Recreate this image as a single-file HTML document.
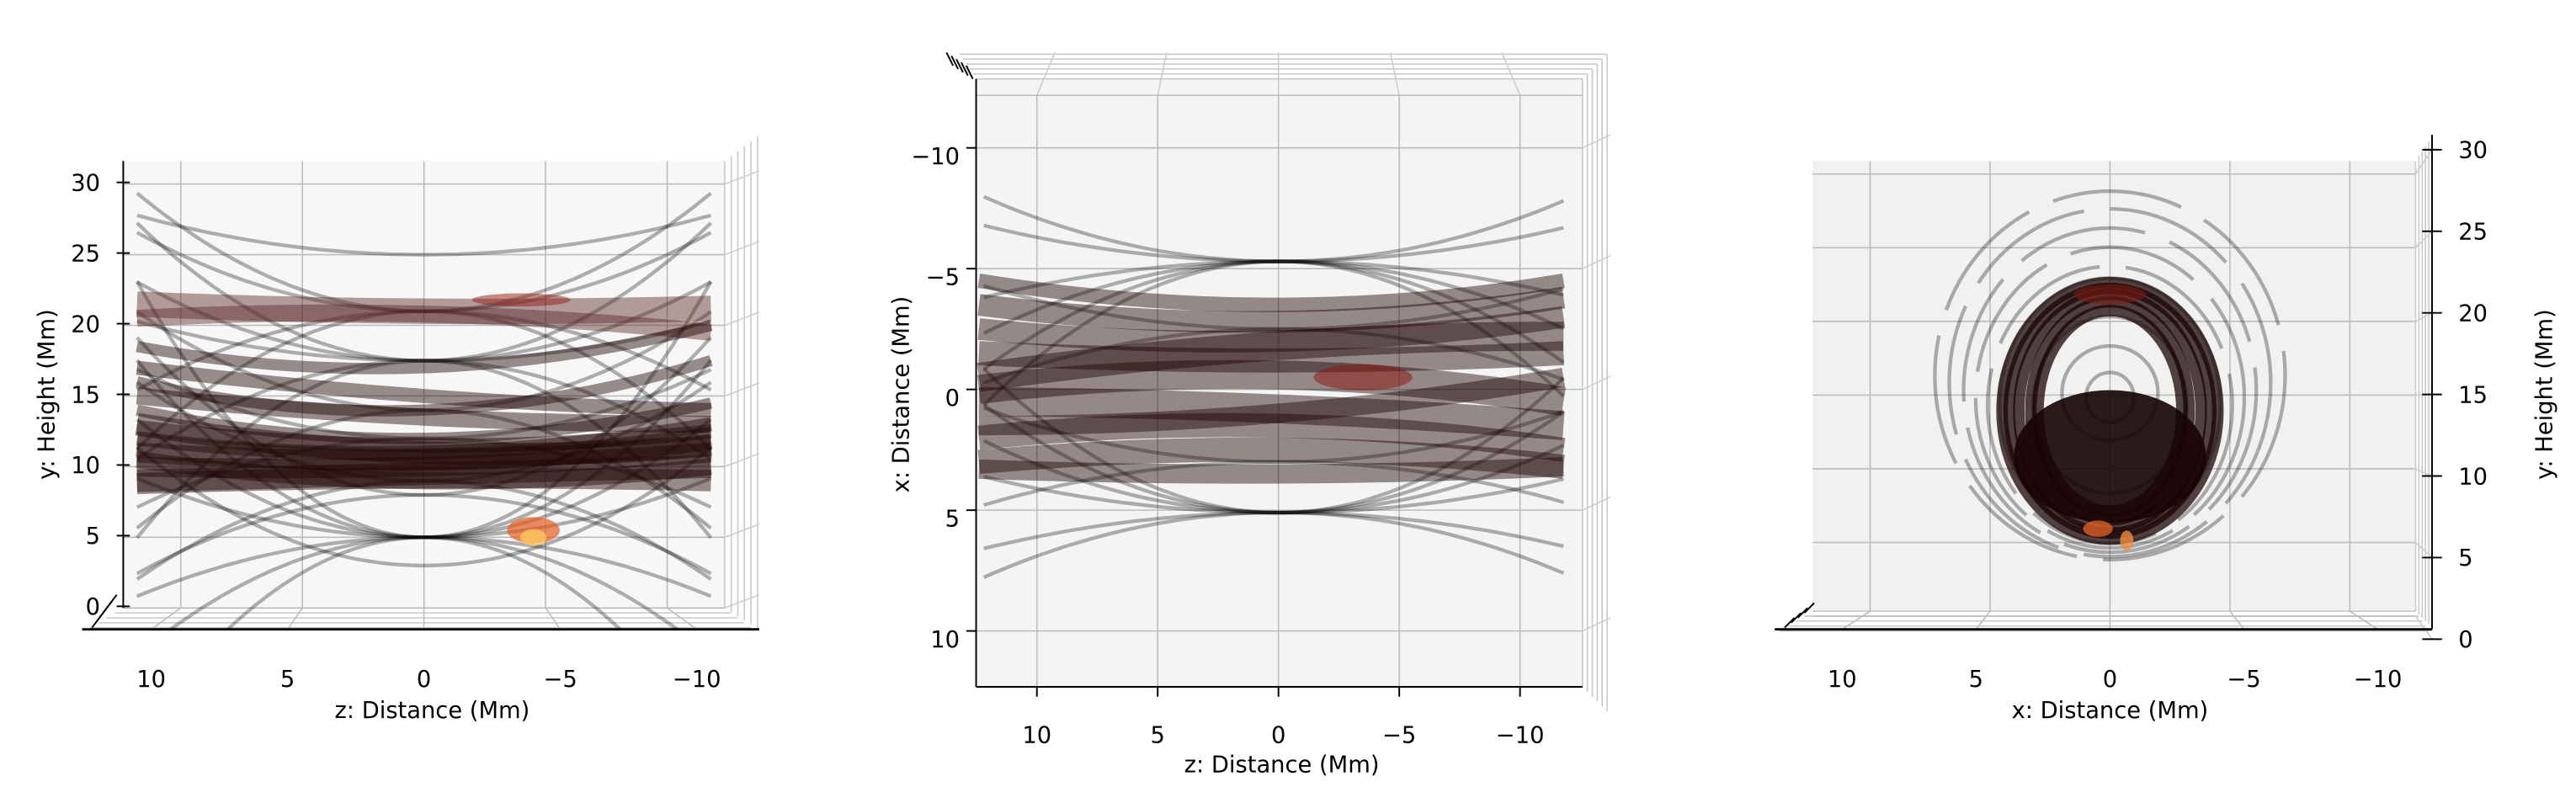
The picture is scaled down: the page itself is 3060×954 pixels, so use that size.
<!DOCTYPE html>
<html><head><meta charset="utf-8"><style>
html,body{margin:0;padding:0;background:#fff;overflow:hidden;width:3060px;height:954px;}
svg{display:block;font-family:"DejaVu Sans","Liberation Sans",sans-serif;}
</style></head><body>
<svg id="fig" width="3060" height="954" viewBox="0 0 1567.6 488.7" preserveAspectRatio="none" xmlns="http://www.w3.org/2000/svg"></svg>
<script>
// ---------- data ----------
const p1TickY = [0,5,10,15,20,25,30];
const p1TickZ = [10,5,0,-5,-10];
const p2TickX = [-10,-5,0,5,10];
// panel 1 field lines: y = c + k*z^2
const p1LineC = [5,5,5,5,5,5,5,17.5,17.5,17.5,17.5,17.5,21,21,21,21,9,9,12,12,14,14,8,8,25,3];
const p1LineK = [0.03,0.06,0.09,-0.03,-0.06,-0.1,0.13,0.04,0.07,-0.05,-0.09,0.02,0.04,-0.04,0.06,-0.07,0.05,-0.05,0.035,-0.035,0.05,-0.06,0.08,-0.04,0.02,0.06];
// panel 1 dark flux bands: left y, middle y, right y, width (Mm)
const p1BandY0 = [21.5,20.5,17,15,13,11.5,10,9,8.8,14,12,16,18.5,10.5,12.8,11];
const p1BandYm = [21,20.8,15,13.5,11,10.5,10,9.5,9.2,12,11,14,17,9,11.5,10.5];
const p1BandY1 = [21.2,19.5,14,13,11.5,12,11,10,9,14.5,13,17.5,20,10,12.5,11.5];
const p1BandW  = [1.8,1.2,1.0,1.2,1.6,1.6,1.4,1.6,1.5,0.8,1.0,0.8,0.8,1.2,1.0,1.4];
// panel 2 field lines: x = c + k*z^2
const p2LineC = [-5.3,-5.3,-5.3,-5.3,-5.3,-5.3,5.1,5.1,5.1,5.1,5.1,5.1,3,3,-2.5,-2.5];
const p2LineK = [-0.018,-0.01,0.01,0.02,0.03,0.04,0.018,0.01,-0.01,-0.02,-0.03,-0.04,-0.015,0.012,0.015,-0.012];
const p2BandX0 = [-3.5,-2.5,-1.5,0,0.5,2,3,3.3,-4.5,1.5,-0.5];
const p2BandXm = [-2.8,-2,-1.2,-0.6,0.8,1.5,2.5,3.5,-3.5,1,-1.8];
const p2BandX1 = [-3.8,-3,-1.5,0.5,1.5,2.5,3.2,3.2,-4.5,-0.5,-2.2];
const p2BandW  = [0.9,0.9,1.0,1.2,1.2,1.0,1.0,0.8,0.6,0.8,1.2];
// panel 3 field-line ellipses: center height, semi-x, semi-y
const p3EllC  = [14.5,14.8,14,14,14,14.5,15,15.5,16];
const p3EllA  = [1.0,2.0,3.2,4.6,5.1,5.6,6.1,6.7,7.3];
const p3EllB  = [1.7,3.2,6.0,8.6,9.4,10.2,11.0,11.8,12.5];
const p3RingA = [3.3,3.8,4.2,4.5,3.0];
const p3RingB = [7.4,7.9,8.3,8.7,6.8];

// ---------- helpers ----------
const NS="http://www.w3.org/2000/svg";
const svg=document.getElementById('fig');
function mk(tag,attrs,parent){const e=document.createElementNS(NS,tag);for(const k in attrs)e.setAttribute(k,attrs[k]);(parent||svg).appendChild(e);return e;}
function txt(x,y,s,size,anchor,parent,rot){const t=mk('text',{x:x,y:y,'font-size':size,'text-anchor':anchor||'middle',fill:'#000'},parent);if(rot)t.setAttribute('transform','rotate(-90 '+x+' '+y+')');t.textContent=s;return t;}
const FS=14;

// ================= PANEL 1 =================
const g1=mk('g',{});


const p1z=z=>258-z*14.8, p1y=v=>370-v*8.6;
mk('rect',{x:75,y:98,width:366,height:272,fill:'#f7f7f7'},g1);
for(let i=0;i<5;i++){mk('line',{x1:75-i*5,y1:370+i*3,x2:441+i*4,y2:370+i*3,stroke:'#c8c8c8','stroke-width':0.8},g1);}
for(let i=0;i<6;i++){mk('line',{x1:441+i*4,y1:98-i*3,x2:441+i*4,y2:370+i*2.5,stroke:'#c8c8c8','stroke-width':0.8},g1);}
p1TickZ.forEach(z=>{mk('line',{x1:p1z(z),y1:98,x2:p1z(z),y2:370,stroke:'#bbb','stroke-width':0.8},g1);
 mk('line',{x1:p1z(z),y1:370,x2:258-z*16.6,y2:383,stroke:'#bbb','stroke-width':0.8},g1);});
p1TickY.forEach(v=>{mk('line',{x1:75,y1:p1y(v),x2:441,y2:p1y(v),stroke:'#bbb','stroke-width':0.8},g1);
 mk('line',{x1:441,y1:p1y(v),x2:462,y2:p1y(v)-8,stroke:'#ccc','stroke-width':0.8},g1);});
const clip1=mk('clipPath',{id:'c1'},g1);mk('rect',{x:70,y:98,width:375,height:285},clip1);
const d1=mk('g',{'clip-path':'url(#c1)'},g1);
p1LineC.forEach((c,i)=>{const k=p1LineK[i];let d='';for(let z=-11.8;z<=12;z+=0.4){d+=(d?'L':'M')+p1z(z).toFixed(1)+','+p1y(c+k*z*z).toFixed(1);}
 const p=mk('path',{d:d,fill:'none',stroke:'rgba(0,0,0,0.3)','stroke-width':2.2},d1);
 });
p1BandY0.forEach((y0,i)=>{const d='M'+p1z(11.8)+','+p1y(y0)+' Q'+p1z(0)+','+p1y(2*p1BandYm[i]-(y0+p1BandY1[i])/2)+' '+p1z(-11.8)+','+p1y(p1BandY1[i]);
 const p=mk('path',{d:d,fill:'none',stroke:i<2?'rgba(90,40,40,0.45)':'rgba(30,5,5,0.45)','stroke-width':p1BandW[i]*8.6},d1);
 });
mk('ellipse',{cx:p1z(-4.5),cy:p1y(5.5),rx:16,ry:8,fill:'rgba(230,90,30,0.7)'},d1);
mk('ellipse',{cx:p1z(-4.5),cy:p1y(5),rx:8,ry:5,fill:'rgba(250,200,90,0.8)'},d1);
mk('ellipse',{cx:p1z(-4),cy:p1y(21.8),rx:30,ry:4,fill:'rgba(150,30,20,0.5)'},d1);
mk('line',{x1:75,y1:98,x2:75,y2:370,stroke:'#000','stroke-width':1},g1);
mk('line',{x1:50,y1:383,x2:462,y2:383,stroke:'#000','stroke-width':1.5},g1);
p1TickY.forEach(v=>{mk('line',{x1:71,y1:p1y(v)-1,x2:79,y2:p1y(v)-1,stroke:'#000','stroke-width':1},g1);txt(61,p1y(v)+4,String(v),FS,'end',g1);});
for(let i=0;i<4;i++)mk('line',{x1:56+i*3,y1:382-i*4,x2:62+i*3,y2:374-i*4,stroke:'#000','stroke-width':1},g1);
p1TickZ.forEach(z=>{txt(258-z*16.6,418,String(z).replace('-','\u2212'),FS,'middle',g1);});
txt(263,437,'z: Distance (Mm)',FS,'middle',g1);
txt(33,240,'y: Height (Mm)',FS,'middle',g1,true);

// ================= PANEL 2 =================
const g2=mk('g',{});


const p2z=z=>778-z*14.7, p2x=x=>237+x*14.7;
mk('rect',{x:594,y:48,width:369,height:370,fill:'#f4f4f4'},g2);
for(let i=0;i<6;i++){mk('line',{x1:594-i*2,y1:48-i*3,x2:963+i*3,y2:48-i*3,stroke:'#c8c8c8','stroke-width':0.8},g2);
 mk('line',{x1:963+i*3,y1:48-i*3,x2:963+i*3,y2:418+i*3,stroke:'#c8c8c8','stroke-width':0.8},g2);}
p1TickZ.forEach(z=>{mk('line',{x1:p2z(z),y1:58,x2:p2z(z),y2:418,stroke:'#bbb','stroke-width':0.8},g2);mk('line',{x1:p2z(z),y1:58,x2:778-z*13.6,y2:32,stroke:'#ccc','stroke-width':0.8},g2);});
p2TickX.forEach(x=>{mk('line',{x1:594,y1:p2x(x),x2:963,y2:p2x(x),stroke:'#bbb','stroke-width':0.8},g2);mk('line',{x1:963,y1:p2x(x),x2:980,y2:p2x(x)-8,stroke:'#ccc','stroke-width':0.8},g2);});
mk('line',{x1:594,y1:58,x2:963,y2:58,stroke:'#bbb','stroke-width':0.8},g2);
const clip2=mk('clipPath',{id:'c2'},g2);mk('rect',{x:594,y:48,width:369,height:370},clip2);
const d2=mk('g',{'clip-path':'url(#c2)'},g2);
p2LineC.forEach((c,i)=>{const k=p2LineK[i];let d='';for(let z=-11.8;z<=12.4;z+=0.4){d+=(d?'L':'M')+p2z(z).toFixed(1)+','+p2x(c+k*z*z).toFixed(1);}
 const p=mk('path',{d:d,fill:'none',stroke:'rgba(0,0,0,0.3)','stroke-width':2.2},d2);
 });
p2BandX0.forEach((x0,i)=>{const d='M'+p2z(12.4)+','+p2x(x0)+' Q'+p2z(0)+','+p2x(2*p2BandXm[i]-(x0+p2BandX1[i])/2)+' '+p2z(-11.8)+','+p2x(p2BandX1[i]);
 const p=mk('path',{d:d,fill:'none',stroke:'rgba(30,5,5,0.45)','stroke-width':p2BandW[i]*14.7},d2);
 });
mk('ellipse',{cx:p2z(-3.5),cy:p2x(-0.5),rx:30,ry:8,fill:'rgba(140,20,10,0.5)'},d2);
mk('line',{x1:594,y1:48,x2:594,y2:418,stroke:'#000','stroke-width':1},g2);
mk('line',{x1:594,y1:418,x2:963,y2:418,stroke:'#000','stroke-width':1},g2);
for(let i=0;i<5;i++)mk('line',{x1:576+i*3,y1:32+i*2,x2:580+i*3,y2:40+i*2,stroke:'#000','stroke-width':1},g2);
p2TickX.forEach(x=>{mk('line',{x1:588,y1:p2x(x),x2:594,y2:p2x(x),stroke:'#000','stroke-width':1},g2);txt(584,p2x(x)+10,String(x).replace('-','\u2212'),FS,'end',g2);});
p1TickZ.forEach(z=>{mk('line',{x1:p2z(z),y1:418,x2:p2z(z),y2:424,stroke:'#000','stroke-width':1},g2);txt(p2z(z),452,String(z).replace('-','\u2212'),FS,'middle',g2);});
txt(780,470,'z: Distance (Mm)',FS,'middle',g2);
txt(553,240,'x: Distance (Mm)',FS,'middle',g2,true);

// ================= PANEL 3 =================
const g3=mk('g',{});


const p3x=x=>1284-x*14.6, p3y=v=>372-v*8.97;
mk('rect',{x:1103,y:98,width:367,height:274,fill:'#f1f1f1'},g3);
for(let i=0;i<5;i++){mk('line',{x1:1103-i*5,y1:372+i*3,x2:1470+i*2,y2:372+i*3,stroke:'#c8c8c8','stroke-width':0.8},g3);
 mk('line',{x1:1470+i*2,y1:98-i*3,x2:1470+i*2,y2:372+i*2,stroke:'#c8c8c8','stroke-width':0.8},g3);}
p1TickZ.forEach(x=>{mk('line',{x1:p3x(x),y1:98,x2:p3x(x),y2:372,stroke:'#bbb','stroke-width':0.8},g3);mk('line',{x1:p3x(x),y1:372,x2:1284-x*16.3,y2:383,stroke:'#bbb','stroke-width':0.8},g3);});
p1TickY.forEach(v=>{mk('line',{x1:1103,y1:p3y(v)+3,x2:1470,y2:p3y(v)+3,stroke:'#bbb','stroke-width':0.8},g3);mk('line',{x1:1470,y1:p3y(v)+3,x2:1480,y2:389-v*9.93,stroke:'#ccc','stroke-width':0.8},g3);});
const d3=mk('g',{},g3);
p3EllC.forEach((c,i)=>{const e=mk('ellipse',{cx:p3x(0),cy:p3y(c),rx:p3EllA[i]*14.6,ry:p3EllB[i]*8.97,fill:'none',stroke:'rgba(0,0,0,0.3)','stroke-width':2.2,'stroke-dasharray':i>3?'80 16':'none'},d3);
 });
mk('ellipse',{cx:p3x(0),cy:p3y(10.5),rx:4*14.6,ry:4.5*8.97,fill:'rgba(20,3,3,0.9)'},d3);
p3RingA.forEach((a,i)=>{const e=mk('ellipse',{cx:p3x(0),cy:p3y(13.6),rx:a*14.6,ry:p3RingB[i]*8.97,fill:'none',stroke:'rgba(25,4,4,0.75)','stroke-width':7},d3);
 });
mk('ellipse',{cx:p3x(0),cy:p3y(21.5),rx:22,ry:6,fill:'rgba(130,25,15,0.55)'},d3);
mk('ellipse',{cx:p3x(0.5),cy:p3y(5.6),rx:9,ry:5,fill:'rgba(230,100,40,0.75)'},d3);
mk('ellipse',{cx:p3x(-0.7),cy:p3y(4.8),rx:4,ry:6,fill:'rgba(240,140,60,0.8)'},d3);
mk('line',{x1:1080,y1:383,x2:1480,y2:383,stroke:'#000','stroke-width':1.5},g3);
mk('line',{x1:1480,y1:82,x2:1480,y2:383,stroke:'#000','stroke-width':1},g3);
for(let i=0;i<4;i++)mk('line',{x1:1086+i*4,y1:382-i*3,x2:1092+i*4,y2:376-i*3,stroke:'#000','stroke-width':1},g3);
p1TickY.forEach(v=>{const yy=389-v*9.93;mk('line',{x1:1474,y1:yy,x2:1486,y2:yy,stroke:'#000','stroke-width':1},g3);txt(1496,yy+5,String(v),FS,'start',g3);});
p1TickZ.forEach(x=>{txt(1284-x*16.3,418,String(x).replace('-','\u2212'),FS,'middle',g3);});
txt(1284,437,'x: Distance (Mm)',FS,'middle',g3);
txt(1553,240,'y: Height (Mm)',FS,'middle',g3,true);
</script>
</body></html>
